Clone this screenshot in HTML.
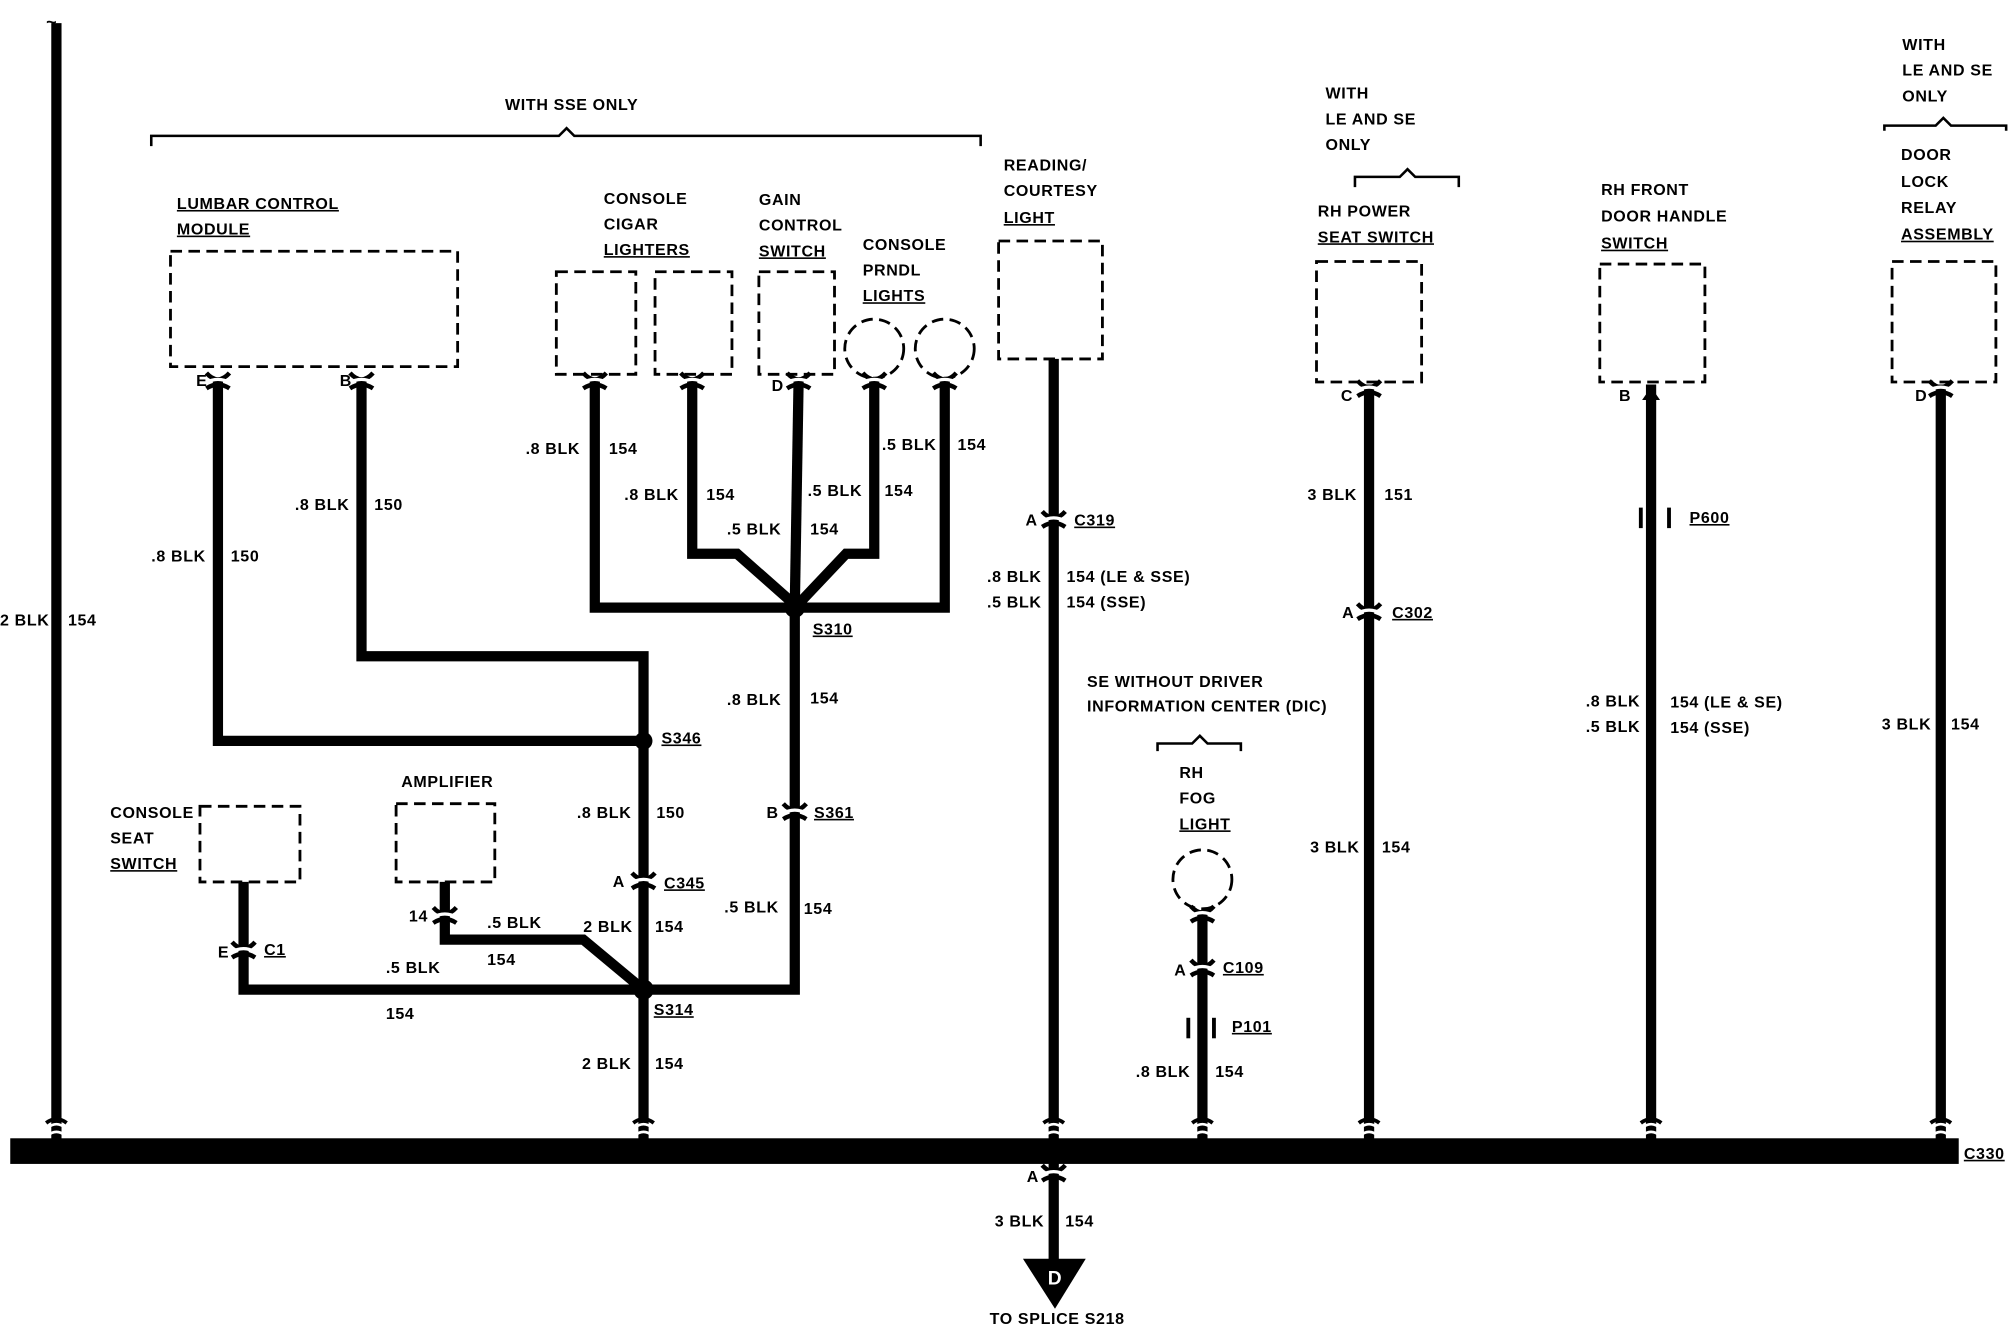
<!DOCTYPE html>
<html><head><meta charset="utf-8"><style>
html,body{margin:0;padding:0;background:#fff;}
svg{display:block}
text{font-family:"Liberation Sans",sans-serif;font-weight:bold;font-size:12.5px;fill:#000;letter-spacing:0.5px}
.u{text-decoration:underline}
</style></head><body>
<svg width="2010" height="1328" viewBox="0 0 1568 1036" preserveAspectRatio="none" xmlns="http://www.w3.org/2000/svg">
<defs>
<g id="cn">
<path d="M-9,-9 Q0,1 9,-9" stroke="#000" stroke-width="3.5" fill="none"/>
<path d="M-10,-1 Q0,-7 10,-1" stroke="#fff" stroke-width="2.5" fill="none"/>
<path d="M-9,3 Q0,-3 9,3" stroke="#000" stroke-width="3.5" fill="none"/>
</g>
<g id="bc">
<path d="M-7,-4 Q0,-10 7,-4" stroke="#fff" stroke-width="2" fill="none"/>
<path d="M-8,-8 Q0,-14 8,-8" stroke="#000" stroke-width="3" fill="none"/>
<path d="M-7,2 Q0,-4 7,2" stroke="#fff" stroke-width="2" fill="none"/>
</g>
</defs>
<g fill="none" stroke="#000" stroke-width="8">
<line x1="44" y1="18" x2="44" y2="892"/>
<polyline points="170,296 170,578 502,578"/>
<polyline points="282,296 282,512 502,512 502,895"/>
<polyline points="464,296 464,474 620,474"/>
<polyline points="540,296 540,432 575,432 618,470"/>
<line x1="623" y1="296" x2="620" y2="474"/>
<polyline points="682,296 682,432 660,432 624,470"/>
<polyline points="737,296 737,474 622,474"/>
<polyline points="620,474 620,772 502,772"/>
<polyline points="190,688 190,772 502,772"/>
<polyline points="347,688 347,733 455,733 497,768"/>
<line x1="822" y1="280" x2="822" y2="895"/>
<line x1="938" y1="710" x2="938" y2="895"/>
<line x1="1068" y1="300" x2="1068" y2="895"/>
<line x1="1288" y1="300" x2="1288" y2="895"/>
<line x1="1514" y1="300" x2="1514" y2="895"/>
<line x1="822" y1="905" x2="822" y2="985"/>
</g>
<rect x="8" y="888" width="1520" height="20" fill="#000"/>
<polygon points="798,982 847,982 823,1021" fill="#000"/>
<text x="823" y="1002" text-anchor="middle" style="fill:#fff;font-size:15px">D</text>
<g fill="#000">
<circle cx="620" cy="474" r="8"/><circle cx="502" cy="578" r="7"/><circle cx="502" cy="772" r="8"/>
</g>
<g fill="none" stroke="#000" stroke-width="2.2" stroke-dasharray="9,5">
<rect x="133" y="196" width="224" height="90"/>
<rect x="434" y="212" width="62" height="80"/>
<rect x="511" y="212" width="60" height="80"/>
<rect x="592" y="212" width="59" height="80"/>
<circle cx="682" cy="272" r="23"/><circle cx="737" cy="272" r="23"/>
<rect x="779" y="188" width="81" height="92"/>
<rect x="156" y="629" width="78" height="59"/>
<rect x="309" y="627" width="77" height="61"/>
<circle cx="938" cy="686" r="23"/>
<rect x="1027" y="204" width="82" height="94"/>
<rect x="1248" y="206" width="82" height="92"/>
<rect x="1476" y="204" width="81" height="94"/>
</g>
<g fill="none" stroke="#000" stroke-width="2">
<path d="M118,114 L118,106 L436,106 L442,100 L448,106 L765,106 L765,114"/>
<path d="M1057,146 L1057,138 L1092,138 L1098,132 L1104,138 L1138,138 L1138,146"/>
<path d="M1470,102 L1470,98 L1510,98 L1516,92 L1522,98 L1565,98 L1565,102"/>
<path d="M903,586 L903,580 L930,580 L936,574 L942,580 L968,580 L968,586"/>
<line x1="1280" y1="396" x2="1280" y2="412" stroke-width="3"/><line x1="1302" y1="396" x2="1302" y2="412" stroke-width="3"/>
<line x1="927" y1="794" x2="927" y2="810" stroke-width="3"/><line x1="947" y1="794" x2="947" y2="810" stroke-width="3"/>
</g>
<use href="#cn" x="170" y="300"/><use href="#cn" x="282" y="300"/><use href="#cn" x="464" y="300"/>
<use href="#cn" x="540" y="300"/><use href="#cn" x="623" y="300"/><use href="#cn" x="682" y="300"/>
<use href="#cn" x="737" y="300"/><use href="#cn" x="1068" y="306"/><use href="#cn" x="1514" y="306"/>
<use href="#cn" x="938" y="716"/>
<path d="M1281,312 L1288,302 L1295,312 Z" fill="#000"/>
<use href="#cn" x="822" y="408"/><use href="#cn" x="1068" y="480"/><use href="#cn" x="502" y="690"/>
<use href="#cn" x="620" y="636"/><use href="#cn" x="347" y="717"/><use href="#cn" x="190" y="744"/>
<use href="#cn" x="938" y="758"/><use href="#cn" x="822" y="918"/>
<use href="#bc" x="44" y="884"/><use href="#bc" x="502" y="884"/><use href="#bc" x="822" y="884"/>
<use href="#bc" x="938" y="884"/><use href="#bc" x="1068" y="884"/><use href="#bc" x="1288" y="884"/><use href="#bc" x="1514" y="884"/>
<text x="394" y="86">WITH SSE ONLY</text>
<text x="138" y="163" class="u">LUMBAR CONTROL</text><text x="138" y="183" class="u">MODULE</text>
<text x="471" y="159">CONSOLE</text><text x="471" y="179">CIGAR</text><text x="471" y="199" class="u">LIGHTERS</text>
<text x="592" y="160">GAIN</text><text x="592" y="180">CONTROL</text><text x="592" y="200" class="u">SWITCH</text>
<text x="673" y="195">CONSOLE</text><text x="673" y="215">PRNDL</text><text x="673" y="235" class="u">LIGHTS</text>
<text x="783" y="133">READING/</text><text x="783" y="153">COURTESY</text><text x="783" y="174" class="u">LIGHT</text>
<text x="1034" y="77">WITH</text><text x="1034" y="97">LE AND SE</text><text x="1034" y="117">ONLY</text>
<text x="1028" y="169">RH POWER</text><text x="1028" y="189" class="u">SEAT SWITCH</text>
<text x="1249" y="152">RH FRONT</text><text x="1249" y="173">DOOR HANDLE</text><text x="1249" y="194" class="u">SWITCH</text>
<text x="1484" y="39">WITH</text><text x="1484" y="59">LE AND SE</text><text x="1484" y="79">ONLY</text>
<text x="1483" y="125">DOOR</text><text x="1483" y="146">LOCK</text><text x="1483" y="166">RELAY</text><text x="1483" y="187" class="u">ASSEMBLY</text>
<text x="86" y="638">CONSOLE</text><text x="86" y="658">SEAT</text><text x="86" y="678" class="u">SWITCH</text>
<text x="313" y="614">AMPLIFIER</text>
<text x="848" y="536">SE WITHOUT DRIVER</text><text x="848" y="555">INFORMATION CENTER (DIC)</text>
<text x="920" y="607">RH</text><text x="920" y="627">FOG</text><text x="920" y="647" class="u">LIGHT</text>
<text x="153" y="301">E</text><text x="265" y="301">B</text><text x="602" y="305">D</text>
<text x="1046" y="313">C</text><text x="1263" y="313">B</text><text x="1494" y="313">D</text>
<text x="0" y="488">2 BLK</text><text x="53" y="488">154</text>
<text x="118" y="438">.8 BLK</text><text x="180" y="438">150</text>
<text x="230" y="398">.8 BLK</text><text x="292" y="398">150</text>
<text x="410" y="354">.8 BLK</text><text x="475" y="354">154</text>
<text x="487" y="390">.8 BLK</text><text x="551" y="390">154</text>
<text x="567" y="417">.5 BLK</text><text x="632" y="417">154</text>
<text x="630" y="387">.5 BLK</text><text x="690" y="387">154</text>
<text x="688" y="351">.5 BLK</text><text x="747" y="351">154</text>
<text x="634" y="495" class="u">S310</text>
<text x="567" y="550">.8 BLK</text><text x="632" y="549">154</text>
<text x="516" y="580" class="u">S346</text>
<text x="598" y="638">B</text><text x="635" y="638" class="u">S361</text>
<text x="450" y="638">.8 BLK</text><text x="512" y="638">150</text>
<text x="478" y="692">A</text><text x="518" y="693" class="u">C345</text>
<text x="565" y="712">.5 BLK</text><text x="627" y="713">154</text>
<text x="455" y="727">2 BLK</text><text x="511" y="727">154</text>
<text x="319" y="719">14</text><text x="380" y="724">.5 BLK</text><text x="380" y="753">154</text>
<text x="170" y="747">E</text><text x="206" y="745" class="u">C1</text>
<text x="301" y="759">.5 BLK</text><text x="301" y="795">154</text>
<text x="510" y="792" class="u">S314</text>
<text x="454" y="834">2 BLK</text><text x="511" y="834">154</text>
<text x="800" y="410">A</text><text x="838" y="410" class="u">C319</text>
<text x="770" y="454">.8 BLK</text><text x="832" y="454">154 (LE &amp; SSE)</text>
<text x="770" y="474">.5 BLK</text><text x="832" y="474">154 (SSE)</text>
<text x="1047" y="482">A</text><text x="1086" y="482" class="u">C302</text>
<text x="1020" y="390">3 BLK</text><text x="1080" y="390">151</text>
<text x="1022" y="665">3 BLK</text><text x="1078" y="665">154</text>
<text x="1318" y="408" class="u">P600</text>
<text x="1237" y="551">.8 BLK</text><text x="1303" y="552">154 (LE &amp; SE)</text>
<text x="1237" y="571">.5 BLK</text><text x="1303" y="572">154 (SSE)</text>
<text x="1468" y="569">3 BLK</text><text x="1522" y="569">154</text>
<text x="916" y="761">A</text><text x="954" y="759" class="u">C109</text>
<text x="961" y="805" class="u">P101</text>
<text x="886" y="840">.8 BLK</text><text x="948" y="840">154</text>
<text x="1532" y="904" class="u">C330</text>
<text x="801" y="922">A</text>
<text x="776" y="957">3 BLK</text><text x="831" y="957">154</text>
<text x="772" y="1033">TO SPLICE S218</text>
<text x="36" y="22" style="font-size:14px">~</text>
</svg>
</body></html>
